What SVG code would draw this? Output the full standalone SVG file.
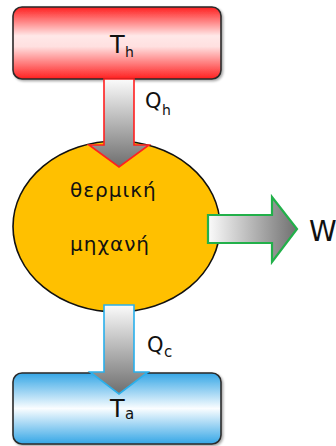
<svg xmlns="http://www.w3.org/2000/svg" width="336" height="446" viewBox="0 0 336 446">
<defs>
<linearGradient id="gRed" x1="0" y1="0" x2="0" y2="1">
<stop offset="0" stop-color="#ff1f1f"/>
<stop offset="0.4" stop-color="#ffe8e8"/>
<stop offset="0.55" stop-color="#ffe0e0"/>
<stop offset="1" stop-color="#ff1f1f"/>
</linearGradient>
<linearGradient id="gBlue" x1="0" y1="0" x2="0" y2="1">
<stop offset="0" stop-color="#35a6e6"/>
<stop offset="0.5" stop-color="#fafdff"/>
<stop offset="1" stop-color="#35a6e6"/>
</linearGradient>
<linearGradient id="gDown" x1="0" y1="0" x2="0" y2="1">
<stop offset="0" stop-color="#fbfbfb"/>
<stop offset="1" stop-color="#6e6e6e"/>
</linearGradient>
<linearGradient id="gRight" x1="0" y1="0" x2="1" y2="0">
<stop offset="0" stop-color="#fbfbfb"/>
<stop offset="1" stop-color="#707070"/>
</linearGradient>
<filter id="sh" x="-10%" y="-10%" width="130%" height="130%">
<feDropShadow dx="1.5" dy="1.5" stdDeviation="1.2" flood-color="#000" flood-opacity="0.35"/>
</filter>
<style>
.box{stroke:#2a2a2a;stroke-width:1.6}
.t{font-family:"DejaVu Sans","Liberation Sans",sans-serif;fill:#111}
</style>
</defs>
<g id="hot">
<rect class="box" x="13" y="7" width="208" height="72" rx="9" fill="url(#gRed)" filter="url(#sh)"/>
<text class="t" x="110" y="53" font-size="24">T</text>
<text class="t" x="125" y="57" font-size="14">h</text>
</g>
<g id="cold">
<rect class="box" x="13" y="373" width="208" height="71" rx="9" fill="url(#gBlue)" filter="url(#sh)"/>
</g>
<g id="engine">
<ellipse cx="116.5" cy="226.5" rx="103.5" ry="85.5" fill="#ffc000" stroke="#111" stroke-width="1.6"/>
<text class="t" x="70" y="197" font-size="20" letter-spacing="1">θερμική</text>
<text class="t" x="70" y="251" font-size="20" letter-spacing="1">μηχανή</text>
</g>
<g id="connectors">
<path d="M104,79 V145 H89 L119,167 L149,145 H134 V79 Z" fill="url(#gDown)" stroke="#ff2020" stroke-width="1.6"/>
<path d="M104,305 V372 H90 L119,394 L148,372 H134 V305 Z" fill="url(#gDown)" stroke="#2ab0ec" stroke-width="1.6"/>
<path d="M208,215 H272 V197 L297,229 L272,262 V243 H208 Z" fill="url(#gRight)" stroke="#22b04a" stroke-width="2.2"/>
</g>
<g id="labels">
<text class="t" x="145" y="108" font-size="21">Q</text>
<text class="t" x="162" y="115" font-size="14">h</text>
<text class="t" x="147" y="352" font-size="21">Q</text>
<text class="t" x="164" y="357" font-size="15">c</text>
<text class="t" x="309" y="241" font-size="28">W</text>
</g>
<g id="coldlabel">
<text class="t" x="110" y="417" font-size="24">T</text>
<text class="t" x="125" y="419" font-size="15">a</text>
</g>
</svg>
